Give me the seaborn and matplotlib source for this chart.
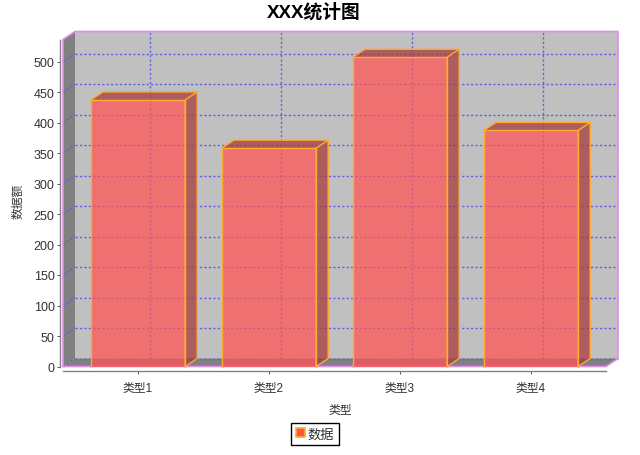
import matplotlib
matplotlib.use('agg')
import matplotlib.pyplot as plt
from matplotlib.patches import Polygon, Patch
import pandas as pd
import seaborn as sns

title = 'XXX统计图'
x_name = '类型'
y_name = '数据额'
series_name = '数据'
categories = ['类型1', '类型2', '类型3', '类型4']
values = [437, 358, 507, 387]
y_ticks = list(range(0, 501, 50))

W, H = 640, 456
# front plane of the fake 3d box, in pixels
LEFT, RIGHT, TOP, BOTTOM = 63, 606, 40.5, 367.5
PX_PER_CAT = 131
PX_PER_VAL = 0.61
DEPTH_X, DEPTH_Y = 12, 8

sns.set_style('white')
plt.rcParams['font.family'] = ['Liberation Sans', 'Noto Sans CJK SC', 'DejaVu Sans']

df = pd.DataFrame({x_name: categories, y_name: values})

fig = plt.figure(figsize=(W / 100, H / 100), dpi=100)
ax = fig.add_axes([LEFT / W, 1 - BOTTOM / H, (RIGHT - LEFT) / W, (BOTTOM - TOP) / H])
ax.patch.set_alpha(0)

sns.barplot(data=df, x=x_name, y=y_name, ax=ax, width=0.72, color='#ff5555',
            saturation=1, alpha=0.75, linewidth=0, zorder=3)
bars = list(ax.patches)

# category 0 sits at x=138 px
ax.set_xlim(-(138 - LEFT) / PX_PER_CAT, (RIGHT - 138) / PX_PER_CAT)
ax.set_ylim(0, (BOTTOM - TOP) / PX_PER_VAL)
x0, x1 = ax.get_xlim()
y0, y1 = ax.get_ylim()
dx = DEPTH_X / PX_PER_CAT
dy = DEPTH_Y / PX_PER_VAL


def face(points, **kw):
    ax.add_patch(Polygon(points, closed=True, clip_on=False, **kw))


# walls
face([(x0 + dx, y0 + dy), (x1 + dx, y0 + dy), (x1 + dx, y1 + dy), (x0 + dx, y1 + dy)],
     facecolor='#c0c0c0', edgecolor='none', zorder=0.5)
face([(x0, y0), (x0 + dx, y0 + dy), (x0 + dx, y1 + dy), (x0, y1)],
     facecolor='#808080', edgecolor='none', zorder=0.6)
face([(x0, y0), (x1, y0), (x1 + dx, y0 + dy), (x0 + dx, y0 + dy)],
     facecolor='#808080', edgecolor='none', zorder=0.6)

# grid on the back wall and the left wall
grid = dict(color='#6060e0', lw=1.0, ls=(0, (1.6, 1.6)), clip_on=False, zorder=0.8)
for v in y_ticks:
    ax.plot([x0 + dx, x1 + dx], [v + dy, v + dy], **grid)
    ax.plot([x0, x0 + dx], [v, v + dy], **grid)
for i in range(len(categories)):
    ax.plot([i + dx, i + dx], [y0 + dy, y1 + dy], **grid)

# outline of the box
pink = '#e08ce8'
ax.plot([x0, x0, x0 + dx, x1 + dx, x1 + dx, x1, x0], [y0, y1, y1 + dy, y1 + dy, y0 + dy, y0, y0],
        color=pink, lw=1.2, clip_on=False, zorder=1)

# top and side faces of the bars
for bar in bars:
    a = bar.get_x()
    b = a + bar.get_width()
    h = bar.get_height()
    edge = dict(facecolor='#a83c3c', alpha=0.75, edgecolor='none', zorder=2.5)
    face([(a, h), (b, h), (b + dx, h + dy), (a + dx, h + dy)], **edge)
    face([(b, 0), (b + dx, dy), (b + dx, h + dy), (b, h)], **edge)
    ax.plot([a, a + dx, b + dx, b + dx, b, b, b + dx], [h, h + dy, h + dy, dy, 0, h, h + dy],
            color='#ffaa30', lw=1.0, clip_on=False, zorder=3.2)
    ax.plot([a, a, b, b], [0, h, h, 0], color='#ffaa30', lw=1.0, clip_on=False, zorder=3.2)

ax.grid(False)
ax.set_yticks(y_ticks)
ax.set_xticks(range(len(categories)), categories)
for s in ['top', 'right']:
    ax.spines[s].set_visible(False)
ax.spines['left'].set_position(('outward', 2))
ax.spines['bottom'].set_position(('outward', 3))
for s in ['left', 'bottom']:
    ax.spines[s].set_color('#808080')
    ax.spines[s].set_linewidth(1.0)
ax.tick_params(axis='y', length=2.5, width=0.7, color='#555555', labelcolor='#333333',
               labelsize=9, pad=1.5, left=True)
ax.tick_params(axis='x', length=2.5, width=0.7, color='#555555', labelcolor='#333333',
               labelsize=8.5, pad=5, bottom=True)

ax.set_xlabel(x_name, fontsize=8.5, color='#333333')
ax.set_ylabel(y_name, fontsize=8.5, color='#333333')
ax.xaxis.set_label_coords(340 / W, 1 - 404 / H, transform=fig.transFigure)
ax.yaxis.set_label_coords(24 / W, 1 - 201 / H, transform=fig.transFigure)

fig.text(314 / W, 1 - 12 / H, title, ha='center', va='center', fontsize=13.5,
         fontweight='bold', color='black')

handle = Patch(facecolor='#ff5545', edgecolor='#ffaa30', linewidth=1.2, label=series_name)
fig.legend(handles=[handle], loc='center', bbox_to_anchor=(315 / W, 1 - 435 / H), fontsize=9.5,
           frameon=True, fancybox=False, edgecolor='black', framealpha=1, borderpad=0.4,
           handlelength=0.7, handleheight=0.7, handletextpad=0.2, borderaxespad=0,
           labelcolor='#333333')

fig.savefig('out.png', dpi=100)
